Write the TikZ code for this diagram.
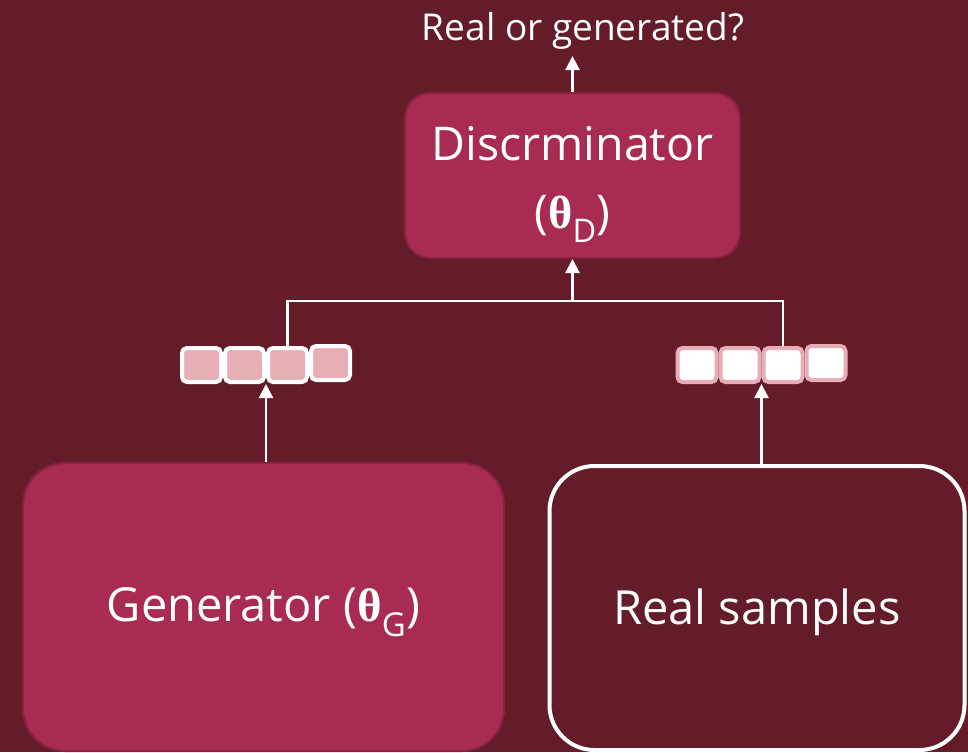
\documentclass[tikz,border=0pt]{standalone}
\usepackage{fontspec}
\setmainfont{Open Sans}
\newfontfamily\grkfont{Liberation Serif}
\newcommand{\thetab}[1]{{\grkfont\bfseries θ}\textsubscript{#1}}
\usetikzlibrary{arrows.meta,positioning}
\definecolor{bgred}{RGB}{99,28,40}
\definecolor{netred}{RGB}{168,44,82}
\definecolor{netedge}{RGB}{135,34,64}
\definecolor{cellpink}{RGB}{232,174,182}

\begin{document}
\begin{tikzpicture}[x=1pt,y=-1pt,
    net/.style={draw=netedge,line width=2pt,fill=netred,text=white,inner sep=0pt,align=center},
    fakecell/.style={draw=white,line width=4pt,fill=cellpink,rounded corners=5pt,minimum width=39pt,minimum height=34pt},
    realcell/.style={draw=cellpink,line width=4pt,fill=white,rounded corners=5pt,minimum width=39pt,minimum height=34pt},
    wire/.style={draw=white,line width=2.2pt},
    arr/.style={wire,-{Triangle[width=14pt,length=14pt]}}]
  \clip (0,0) rectangle (968,752);
  \fill[bgred] (0,0) rectangle (968,752);

  % the two networks
  \node[net,rounded corners=25pt,minimum width=335pt,minimum height=165pt,
        font=\fontsize{46.5}{68}\selectfont] (disc) at (572.5,175.5)
        {\rule{0pt}{52pt}Discrminator\\(\thetab{D})};
  \node[net,rounded corners=42pt,minimum width=481pt,minimum height=288pt,
        font=\fontsize{47}{56}\selectfont] (gen) at (263.5,607) {\rule{0pt}{44pt}Generator (\thetab{G})};
  \node[draw=white,line width=4pt,rounded corners=45pt,minimum width=415pt,minimum height=284pt,
        text=white,font=\fontsize{47}{56}\selectfont] (real) at (757,608) {\rule{0pt}{44pt}Real samples};

  \node[text=white,inner sep=0pt,font=\fontsize{37}{44}\selectfont] (out) at (583,31) {Real or generated?};

  % sample vectors
  \foreach \i/\dy in {1/0,2/0,3/0,4/-2} {
    \node[fakecell] (g\i) at (201.5+43*\i-43,365+\dy) {};
    \node[realcell] (r\i) at (697+43*\i-43,365+\dy) {};
  }

  \coordinate[below=42pt of disc.south] (join);
  \draw[wire] (g3.north) |- (join) -| (r3.north);
  \draw[arr] (join) -- (disc.south);
  \draw[arr] (disc.north) -- ++(0,-36);
  \draw[arr] (gen.north -| g2.south east) -- (g2.south east);
  \draw[arr] (real.north -| r2.south east) -- (r2.south east);
\end{tikzpicture}
\end{document}
